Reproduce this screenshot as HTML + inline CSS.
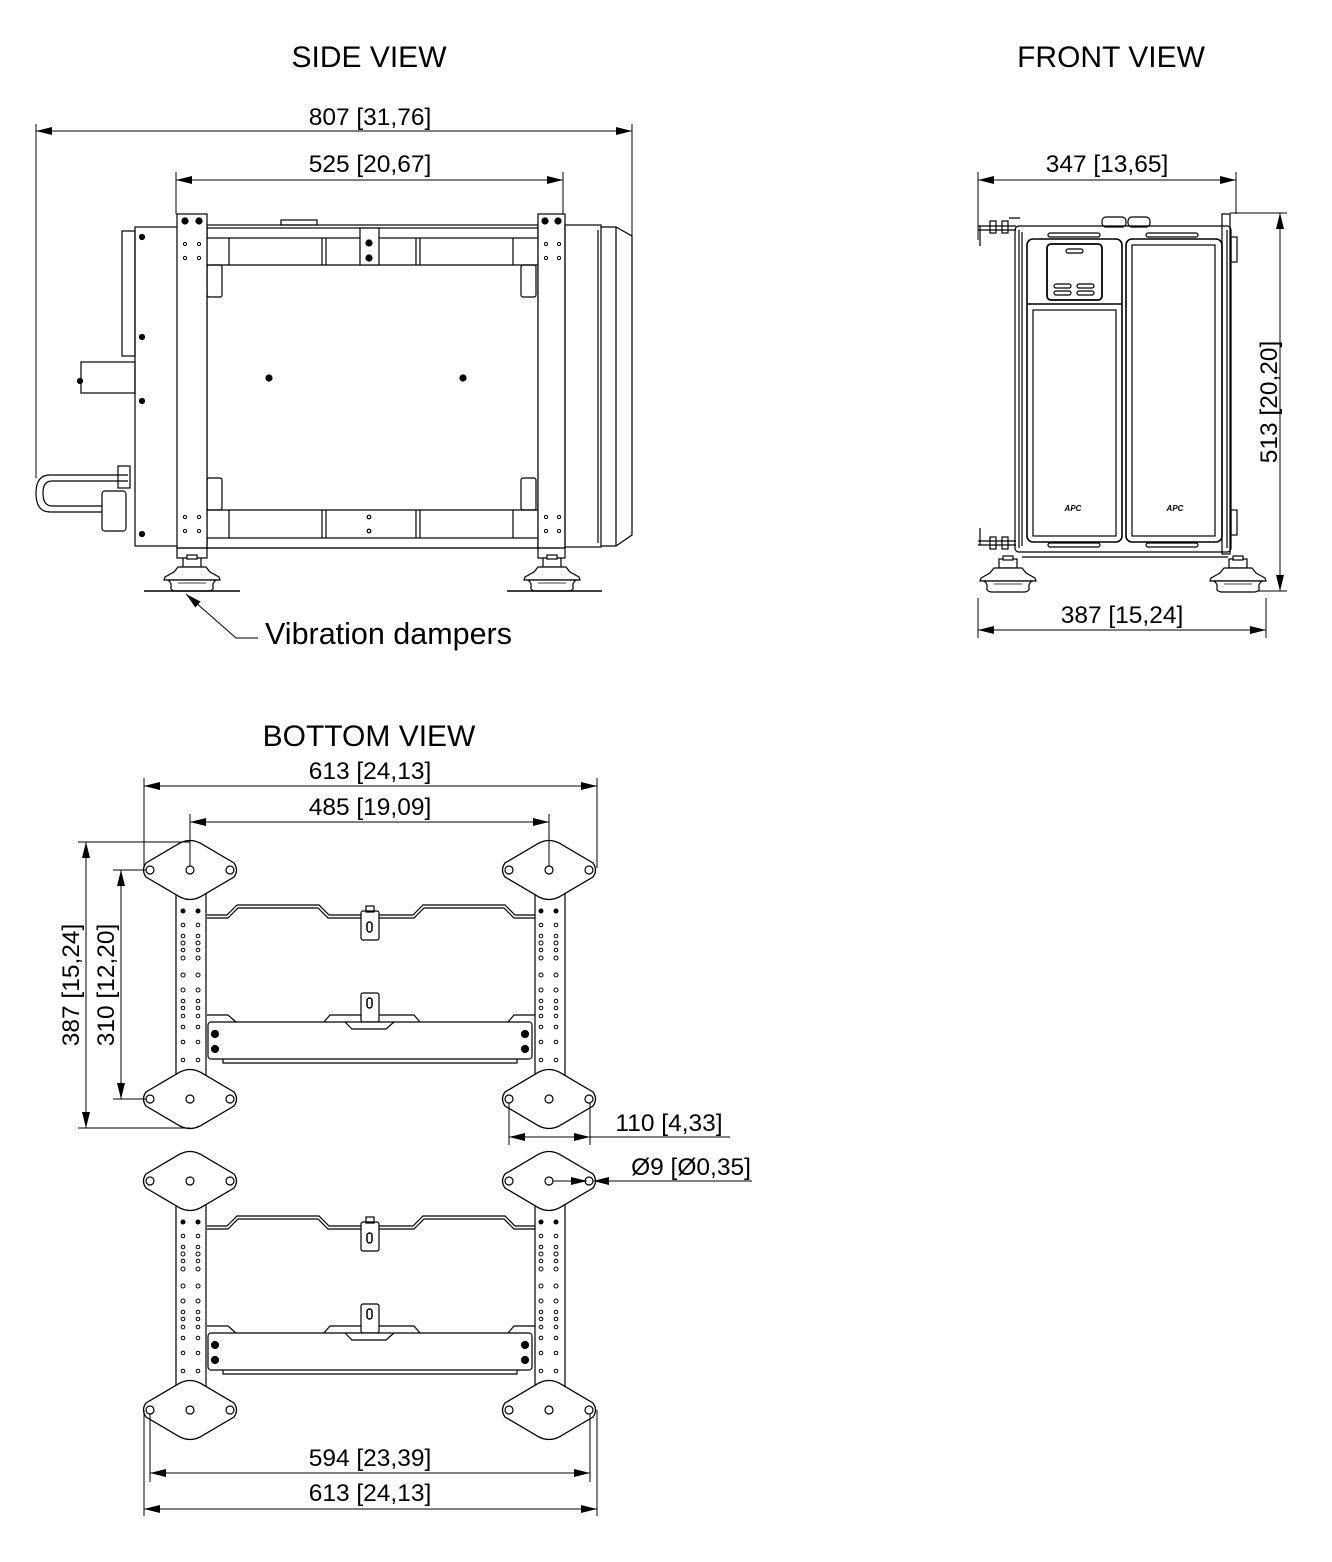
<!DOCTYPE html>
<html><head><meta charset="utf-8"><style>
html,body{margin:0;padding:0;background:#fff}
svg{display:block}
text{font-family:"Liberation Sans",Arial,sans-serif;fill:#000}
</style></head><body>
<svg width="1332" height="1562" viewBox="0 0 1332 1562" xmlns="http://www.w3.org/2000/svg">
<defs>
<marker id="a" viewBox="0 0 16 8" refX="16" refY="4" markerWidth="16" markerHeight="8" markerUnits="userSpaceOnUse" orient="auto-start-reverse"><path d="M0,0 L16,4 L0,8 Z" fill="#000"/></marker>
<g id="dia">
<path d="M-44,-7 Q-49,0 -44,7 L-10,27 Q0,32 10,27 L44,7 Q49,0 44,-7 L10,-27 Q0,-32 -10,-27 Z" fill="#fff" stroke="#000" stroke-width="1.3"/>
<circle cx="-40" cy="0" r="4" fill="none" stroke="#000" stroke-width="1.2"/>
<circle cx="0" cy="0" r="4" fill="none" stroke="#000" stroke-width="1.2"/>
<circle cx="40" cy="0" r="4" fill="none" stroke="#000" stroke-width="1.2"/>
</g>
<g id="holes" fill="none" stroke="#000" stroke-width="1">
<circle cx="0" cy="911" r="2" fill="#000"/><circle cx="15" cy="911" r="2" fill="#000"/>
<circle cx="0" cy="925" r="1.8"/><circle cx="15" cy="925" r="1.8"/>
<circle cx="0" cy="936" r="1.8"/><circle cx="15" cy="936" r="1.8"/>
<circle cx="0" cy="943" r="2"/><circle cx="15" cy="943" r="2"/>
<circle cx="0" cy="950" r="1.8"/><circle cx="15" cy="950" r="1.8"/>
<circle cx="0" cy="958" r="2"/><circle cx="15" cy="958" r="2"/>
<circle cx="0" cy="975" r="2"/><circle cx="15" cy="975" r="2"/>
<circle cx="0" cy="990" r="2"/><circle cx="15" cy="990" r="2"/>
<circle cx="0" cy="1001" r="1.8"/><circle cx="15" cy="1001" r="1.8"/>
<circle cx="0" cy="1008" r="1.8"/><circle cx="15" cy="1008" r="1.8"/>
<circle cx="0" cy="1016" r="1.8"/><circle cx="15" cy="1016" r="1.8"/>
<circle cx="0" cy="1027" r="1.8"/><circle cx="15" cy="1027" r="1.8"/>
<circle cx="0" cy="1042" r="1.8"/><circle cx="15" cy="1042" r="1.8"/>
<circle cx="0" cy="1060" r="1.8"/><circle cx="15" cy="1060" r="1.8"/>
</g>
<g id="unit" fill="none" stroke="#000" stroke-width="1.2">
<rect x="176" y="890" width="30" height="190" fill="#fff"/>
<rect x="535" y="890" width="30" height="190" fill="#fff"/>
<use href="#holes" x="183"/><use href="#holes" x="541"/>
<path d="M207,918 L228,918 L238,908 L318,908 L328,918 L414,918 L424,908 L504,908 L514,918 L535,918"/>
<path d="M207,915 L227,915 L237,905 L319,905 L329,915 L413,915 L423,905 L505,905 L515,915 L535,915"/>
<rect x="361" y="911" width="18" height="29" rx="2" fill="#fff"/>
<rect x="366" y="906" width="8" height="6"/>
<rect x="367" y="922" width="5" height="10" rx="2.5" stroke-width="1.5"/>
<path d="M207,1015 L228,1015 L236,1022 M324,1022 L330,1015 L414,1015 L420,1022 M508,1022 L514,1015 L535,1015"/>
<rect x="361" y="993" width="18" height="29" rx="2" fill="#fff"/>
<rect x="367" y="998" width="5" height="10" rx="2.5" stroke-width="1.5"/>
<rect x="208" y="1022" width="324" height="37" rx="3" fill="#fff"/>
<path d="M345,1022 L352,1029 L386,1029 L394,1022"/>
<path d="M223,1059 L223,1063 L517,1063 L517,1059"/>
<circle cx="215" cy="1034" r="3.5" fill="#000"/><circle cx="215" cy="1049" r="3.5" fill="#000"/>
<circle cx="525" cy="1034" r="3.5" fill="#000"/><circle cx="525" cy="1049" r="3.5" fill="#000"/>
<use href="#dia" x="190" y="870"/><use href="#dia" x="549" y="870"/>
<use href="#dia" x="190" y="1099"/><use href="#dia" x="549" y="1099"/>
</g>
<g id="damp" fill="#fff" stroke="#000" stroke-width="1.2">
<rect x="-9" y="-9" width="18" height="9"/>
<rect x="-5" y="-12" width="10" height="4"/>
<path d="M-14,0 L14,0 L18,5 L27,10 L28,13 L-28,13 L-27,10 L-18,5 Z"/>
<path d="M-24,13 Q-20,16 -21,20 Q-22,23 -17,24 L17,24 Q22,23 21,20 Q20,16 24,13 Z"/>
<line x1="-14" y1="16" x2="14" y2="16" stroke-width="0.8"/>
</g>
</defs>

<g font-size="30" text-anchor="middle">
<text x="369" y="67">SIDE VIEW</text>
<text x="1111" y="67">FRONT VIEW</text>
<text x="369" y="746">BOTTOM VIEW</text>
</g>

<!-- SIDE VIEW dims -->
<g stroke="#000" stroke-width="1" fill="none">
<line x1="36" y1="124" x2="36" y2="478"/>
<line x1="632" y1="124" x2="632" y2="236"/>
<line x1="36" y1="131" x2="632" y2="131" marker-start="url(#a)" marker-end="url(#a)"/>
<line x1="176" y1="172" x2="176" y2="214"/>
<line x1="563" y1="172" x2="563" y2="214"/>
<line x1="176" y1="180" x2="563" y2="180" marker-start="url(#a)" marker-end="url(#a)"/>
</g>
<g font-size="24.5" text-anchor="middle">
<text x="370" y="125">807 [31,76]</text>
<text x="370" y="172">525 [20,67]</text>
</g>

<!-- SIDE VIEW body -->
<g fill="none" stroke="#000" stroke-width="1.2">
<rect x="135" y="227" width="43" height="319" fill="#fff"/>
<rect x="122" y="231" width="13" height="125"/>
<rect x="81" y="362" width="54" height="31"/>
<circle cx="80" cy="381" r="2.5" fill="#000"/>
<path d="M128,475 L50,475 Q36,475 36,493 Q36,512 50,512 L103,512"/>
<path d="M128,481 L52,481 Q43,481 43,493 Q43,506 52,506 L103,506"/>
<rect x="102" y="491" width="24" height="40" rx="3" fill="#fff"/>
<rect x="118" y="466" width="12" height="22"/>
<circle cx="142" cy="237" r="2.5" fill="#000"/><circle cx="142" cy="337" r="2.5" fill="#000"/>
<circle cx="142" cy="401" r="2.5" fill="#000"/><circle cx="142" cy="534" r="2.5" fill="#000"/>
<rect x="207" y="225" width="331" height="323"/>
<rect x="207" y="228" width="331" height="10"/>
<line x1="207" y1="265" x2="538" y2="265"/>
<line x1="207" y1="510" x2="538" y2="510"/>
<rect x="207" y="538" width="331" height="10"/>
<line x1="229" y1="238" x2="229" y2="265"/><line x1="322" y1="238" x2="322" y2="265"/><line x1="326" y1="238" x2="326" y2="265"/>
<line x1="416" y1="238" x2="416" y2="265"/><line x1="420" y1="238" x2="420" y2="265"/><line x1="513" y1="238" x2="513" y2="265"/>
<line x1="229" y1="510" x2="229" y2="538"/><line x1="322" y1="510" x2="322" y2="538"/><line x1="326" y1="510" x2="326" y2="538"/>
<line x1="416" y1="510" x2="416" y2="538"/><line x1="420" y1="510" x2="420" y2="538"/><line x1="513" y1="510" x2="513" y2="538"/>
<rect x="281" y="220" width="36" height="5"/>
<rect x="360" y="228" width="19" height="37" fill="#fff"/>
<circle cx="369" cy="243" r="3" fill="#000"/><circle cx="369" cy="258" r="3" fill="#000"/>
<rect x="207" y="265" width="15" height="32" rx="2"/><rect x="521" y="265" width="15" height="32" rx="2"/>
<rect x="207" y="478" width="15" height="32" rx="2"/><rect x="521" y="478" width="15" height="32" rx="2"/>
<circle cx="269" cy="378" r="3" fill="#000"/><circle cx="463" cy="378" r="3" fill="#000"/>
<circle cx="369" cy="517" r="1.8"/><circle cx="369" cy="531" r="1.8"/>
<rect x="177" y="214" width="30" height="334" fill="#fff"/>
<rect x="538" y="214" width="27" height="334" fill="#fff"/>
<rect x="177" y="548" width="30" height="10"/><rect x="538" y="548" width="27" height="10"/>
<circle cx="185" cy="221" r="3" fill="#000"/><circle cx="199" cy="221" r="3" fill="#000"/>
<circle cx="545" cy="221" r="3" fill="#000"/><circle cx="558" cy="221" r="3" fill="#000"/>
<g stroke-width="1">
<circle cx="185" cy="244" r="1.6"/><circle cx="199" cy="244" r="1.6"/><circle cx="185" cy="258" r="1.6"/><circle cx="199" cy="258" r="1.6"/>
<circle cx="185" cy="517" r="1.6"/><circle cx="199" cy="517" r="1.6"/><circle cx="185" cy="531" r="1.6"/><circle cx="199" cy="531" r="1.6"/>
<circle cx="546" cy="244" r="1.6"/><circle cx="559" cy="244" r="1.6"/><circle cx="546" cy="258" r="1.6"/><circle cx="559" cy="258" r="1.6"/>
<circle cx="546" cy="517" r="1.6"/><circle cx="559" cy="517" r="1.6"/><circle cx="546" cy="531" r="1.6"/><circle cx="559" cy="531" r="1.6"/>
</g>
<rect x="565" y="225" width="36" height="322"/>
<path d="M601,227 L616,227 L632,236 L632,535 L616,546 L601,546"/>
<line x1="598" y1="230" x2="598" y2="543"/>
<line x1="616" y1="227" x2="616" y2="546"/>
</g>
<use href="#damp" x="192" y="567"/>
<use href="#damp" x="552" y="567"/>
<g stroke="#000" stroke-width="1.4">
<line x1="144" y1="591" x2="240" y2="591"/>
<line x1="507" y1="591" x2="602" y2="591"/>
</g>
<g stroke="#000" stroke-width="1" fill="none">
<path d="M258,638 L236,638 L186,594" marker-end="url(#a)"/>
</g>
<text x="265" y="644" font-size="30.5">Vibration dampers</text>

<!-- FRONT VIEW -->
<g stroke="#000" stroke-width="1" fill="none">
<line x1="978" y1="172" x2="978" y2="240"/>
<line x1="1236" y1="172" x2="1236" y2="214"/>
<line x1="978" y1="180" x2="1236" y2="180" marker-start="url(#a)" marker-end="url(#a)"/>
<line x1="1230" y1="213" x2="1287" y2="213"/>
<line x1="1240" y1="591" x2="1287" y2="591"/>
<line x1="1280" y1="213" x2="1280" y2="591" marker-start="url(#a)" marker-end="url(#a)"/>
<line x1="978" y1="598" x2="978" y2="638"/>
<line x1="1266" y1="598" x2="1266" y2="638"/>
<line x1="978" y1="630" x2="1266" y2="630" marker-start="url(#a)" marker-end="url(#a)"/>
</g>
<g font-size="24.5" text-anchor="middle">
<text x="1107" y="172">347 [13,65]</text>
<text x="1122" y="623">387 [15,24]</text>
<text transform="translate(1277,402) rotate(-90)">513 [20,20]</text>
</g>
<g fill="none" stroke="#000" stroke-width="1.2">
<path d="M978,226 L1016,226 M978,230 L1016,230 M980,226 L980,246 M1009,218 L1020,218"/>
<rect x="990" y="221" width="6" height="12"/><rect x="1002" y="221" width="6" height="12"/>
<path d="M978,545 L1016,545 M978,541 L1016,541 M980,528 L980,545"/>
<rect x="990" y="537" width="6" height="12"/><rect x="1002" y="537" width="6" height="12"/>
<rect x="1015" y="226" width="216" height="326" rx="4"/>
<line x1="1019" y1="230" x2="1019" y2="548"/>
<line x1="1022" y1="232" x2="1022" y2="546"/>
<line x1="1227" y1="230" x2="1227" y2="548"/>
<rect x="1222" y="214" width="8" height="340"/>
<rect x="1231" y="237" width="6" height="25"/><rect x="1231" y="510" width="6" height="25"/>
<rect x="1102" y="217" width="24" height="10" rx="4"/><rect x="1128" y="217" width="22" height="10" rx="4"/>
<rect x="1027" y="239" width="95" height="303" rx="6" stroke-width="1.6"/>
<rect x="1126" y="239" width="96" height="303" rx="6" stroke-width="1.6"/>
<rect x="1047" y="244" width="55" height="56" rx="4" stroke-width="1.8"/>
<rect x="1066" y="249" width="17" height="4" rx="2"/>
<rect x="1054" y="284" width="17" height="4" rx="2"/><rect x="1077" y="284" width="17" height="4" rx="2"/>
<rect x="1054" y="291" width="17" height="4" rx="2"/><rect x="1077" y="291" width="17" height="4" rx="2"/>
<line x1="1027" y1="304" x2="1122" y2="304" stroke-width="1.6"/>
<rect x="1033" y="310" width="83" height="226"/>
<rect x="1132" y="245" width="83" height="291"/>
<rect x="1048" y="233" width="52" height="4" rx="2"/><rect x="1146" y="233" width="52" height="4" rx="2"/>
<rect x="1048" y="543" width="52" height="4" rx="2"/><rect x="1146" y="543" width="52" height="4" rx="2"/>
<line x1="1022" y1="557" x2="1228" y2="557"/>
</g>
<g font-size="8" font-style="italic" font-weight="bold" text-anchor="middle">
<text x="1073" y="511">APC</text><text x="1175" y="511">APC</text>
</g>
<use href="#damp" x="1008" y="568"/>
<use href="#damp" x="1238" y="568"/>

<!-- BOTTOM VIEW -->
<use href="#unit"/>
<use href="#unit" y="311"/>
<g stroke="#000" stroke-width="1" fill="none">
<line x1="144" y1="778" x2="144" y2="868"/>
<line x1="597" y1="778" x2="597" y2="868"/>
<line x1="144" y1="786" x2="597" y2="786" marker-start="url(#a)" marker-end="url(#a)"/>
<line x1="190" y1="814" x2="190" y2="866"/>
<line x1="549" y1="814" x2="549" y2="866"/>
<line x1="190" y1="822" x2="549" y2="822" marker-start="url(#a)" marker-end="url(#a)"/>
<line x1="78" y1="842" x2="190" y2="842"/>
<line x1="78" y1="1128" x2="190" y2="1128"/>
<line x1="86" y1="842" x2="86" y2="1128" marker-start="url(#a)" marker-end="url(#a)"/>
<line x1="113" y1="870" x2="146" y2="870"/>
<line x1="113" y1="1099" x2="146" y2="1099"/>
<line x1="121" y1="870" x2="121" y2="1099" marker-start="url(#a)" marker-end="url(#a)"/>
<line x1="509" y1="1103" x2="509" y2="1145"/>
<line x1="590" y1="1103" x2="590" y2="1145"/>
<line x1="509" y1="1137" x2="590" y2="1137" marker-start="url(#a)" marker-end="url(#a)"/>
<line x1="590" y1="1137" x2="730" y2="1137"/>
<line x1="553" y1="1181" x2="587" y2="1181" marker-end="url(#a)"/>
<line x1="752" y1="1181" x2="593" y2="1181" marker-end="url(#a)"/>
<line x1="150" y1="1414" x2="150" y2="1482"/>
<line x1="590" y1="1414" x2="590" y2="1482"/>
<line x1="150" y1="1473" x2="590" y2="1473" marker-start="url(#a)" marker-end="url(#a)"/>
<line x1="144" y1="1410" x2="144" y2="1516"/>
<line x1="597" y1="1410" x2="597" y2="1516"/>
<line x1="144" y1="1509" x2="597" y2="1509" marker-start="url(#a)" marker-end="url(#a)"/>
</g>
<g font-size="24.5" text-anchor="middle">
<text x="370" y="779">613 [24,13]</text>
<text x="370" y="815">485 [19,09]</text>
<text x="669" y="1131">110 [4,33]</text>
<text x="691" y="1175">Ø9 [Ø0,35]</text>
<text x="370" y="1466">594 [23,39]</text>
<text x="370" y="1501">613 [24,13]</text>
<text transform="translate(79,985) rotate(-90)">387 [15,24]</text>
<text transform="translate(114,985) rotate(-90)">310 [12,20]</text>
</g>
</svg>
</body></html>
